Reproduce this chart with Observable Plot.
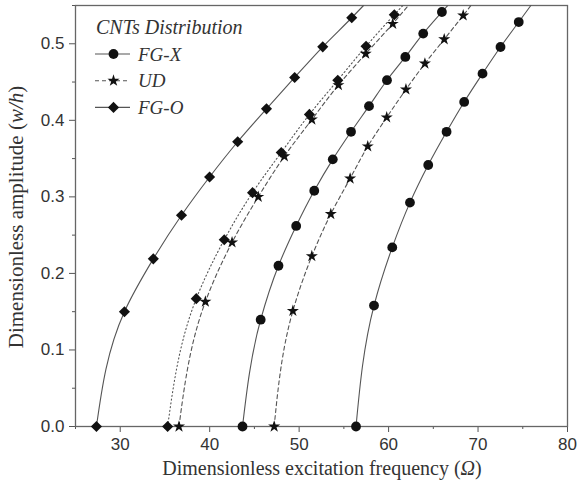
<!DOCTYPE html>
<html>
<head>
<meta charset="utf-8">
<script src="https://cdn.jsdelivr.net/npm/d3@7"></script>
<script src="https://cdn.jsdelivr.net/npm/@observablehq/plot@0.6"></script>
<style>
  html, body { margin: 0; padding: 0; background: #fff; }
  svg { display: block; }
</style>
</head>
<body>
<div id="chart"></div>
<script>
// ---- Data (x = frequency Ω, y = amplitude w/h) ----
// FG-O, solid line, diamonds (lowest frequency)
const foSolidX = [27.34, 30.47, 33.7, 36.85, 39.99, 43.13, 46.35, 49.5, 52.64, 55.88];
const foSolidY = [0, 0.150, 0.219, 0.276, 0.326, 0.372, 0.415, 0.456, 0.496, 0.534];
const foSolidEndX = 57.2;
// diamonds, dotted line
const foDotX = [35.3, 38.5, 41.63, 44.79, 48.0, 51.15, 54.32, 57.48, 60.64];
const foDotY = [0, 0.167, 0.244, 0.3055, 0.358, 0.4077, 0.4524, 0.4967, 0.538];
const foDotEndX = 61.6;
// UD, dashed line, stars (first)
const ud1X = [36.57, 39.52, 42.5, 45.43, 48.35, 51.42, 54.39, 57.44, 60.46];
const ud1Y = [0, 0.163, 0.2405, 0.300, 0.353, 0.401, 0.446, 0.487, 0.526];
const ud1EndX = 62.2;
// FG-X, solid line, circles (first)
const fx1X = [43.67, 45.7, 47.69, 49.67, 51.69, 53.76, 55.8, 57.81, 59.82, 61.87, 63.87, 65.96];
const fx1Y = [0, 0.1395, 0.210, 0.262, 0.308, 0.349, 0.385, 0.4185, 0.4524, 0.4828, 0.5133, 0.5415];
const fx1EndX = 66.6;
// UD, dashed line, stars (second)
const ud2X = [47.21, 49.3, 51.42, 53.54, 55.7, 57.67, 59.79, 61.94, 64.06, 66.22, 68.34];
const ud2Y = [0, 0.151, 0.2225, 0.2775, 0.324, 0.366, 0.4038, 0.4403, 0.4742, 0.5059, 0.537];
const ud2EndX = 69.2;
// FG-X, solid line, circles (second)
const fx2X = [56.36, 58.37, 60.41, 62.39, 64.43, 66.48, 68.45, 70.5, 72.51, 74.55];
const fx2Y = [0, 0.158, 0.234, 0.2925, 0.3416, 0.385, 0.424, 0.461, 0.4958, 0.5284];
const fx2EndX = 75.9;

const yTop = 0.55;
const xTicks = [30, 40, 50, 60, 70, 80];
const xMinor = [25, 35, 45, 55, 65, 75];
const yTicks = [0, 0.1, 0.2, 0.3, 0.4, 0.5];
const yMinor = [0.05, 0.15, 0.25, 0.35, 0.45, 0.55];

const legendTitle = "CNTs Distribution";
const legendNames = ["FG-X", "UD", "FG-O"];
const legendSymbols = ["circle", "star", "diamond2"];
const legendDash = ["none", "4,3", "none"];

// ---- Build tables ----
const curves = [
  {id: "foSolid", xs: foSolidX, ys: foSolidY, end: foSolidEndX, symbol: "diamond2", dash: "none"},
  {id: "foDot",   xs: foDotX,   ys: foDotY,   end: foDotEndX,   symbol: "diamond2", dash: "1.2,2.6"},
  {id: "ud1",     xs: ud1X,     ys: ud1Y,     end: ud1EndX,     symbol: "star",     dash: "4,3"},
  {id: "fx1",     xs: fx1X,     ys: fx1Y,     end: fx1EndX,     symbol: "circle",   dash: "none"},
  {id: "ud2",     xs: ud2X,     ys: ud2Y,     end: ud2EndX,     symbol: "star",     dash: "4,3"},
  {id: "fx2",     xs: fx2X,     ys: fx2Y,     end: fx2EndX,     symbol: "circle",   dash: "none"}
];
const rBySymbol = {circle: 4.9, diamond2: 5.0, star: 3.8};

const lineMarks = curves.map(c => {
  const pts = c.xs.map((x, i) => ({x, y: c.ys[i]}));
  pts.push({x: c.end, y: yTop});
  return Plot.line(pts, {x: "x", y: "y", curve: "monotone-y", stroke: "#555", strokeWidth: 1.1,
                         strokeDasharray: c.dash === "none" ? null : c.dash});
});
const dotMarks = curves.map(c => {
  const pts = c.xs.map((x, i) => ({x, y: c.ys[i]}));
  return Plot.dot(pts, {x: "x", y: "y", symbol: () => c.symbol, fill: "#111", stroke: "none", r: rBySymbol[c.symbol]});
});

const W = 581, H = 486;
const chart = Plot.plot({
  width: W, height: H,
  marginLeft: 75, marginRight: 14, marginTop: 5, marginBottom: 60,
  style: {fontFamily: "'Liberation Sans', Arial, sans-serif", fontSize: "17px", color: "#333", background: "#fff"},
  x: {domain: [25, 80]},
  y: {domain: [0, yTop]},
  symbol: {type: "identity"},
  marks: [
    Plot.axisX({ticks: xTicks, tickSize: 6, tickPadding: 5, label: null, stroke: "#555", fontSize: 17}),
    Plot.axisX({ticks: xMinor, tickSize: 3, tickFormat: () => "", label: null, stroke: "#555"}),
    Plot.axisY({ticks: yTicks, tickSize: 6, tickPadding: 5, tickFormat: d3.format(".1f"), label: null, stroke: "#555", fontSize: 17}),
    Plot.axisY({ticks: yMinor, tickSize: 3, tickFormat: () => "", label: null, stroke: "#555"}),
    Plot.frame({stroke: "#666", strokeWidth: 1.3}),
    ...lineMarks,
    ...dotMarks
  ]
});
document.getElementById("chart").appendChild(chart);

// ---- Axis titles (with italic parts) and legend ----
const svg = d3.select(chart);
const serif = "'Liberation Serif', 'Times New Roman', serif";

const yt = svg.append("text")
  .attr("transform", "translate(23,217) rotate(-90)")
  .attr("text-anchor", "middle")
  .style("font-family", serif).style("font-size", "21px").attr("fill", "#333");
yt.append("tspan").text("Dimensionless amplitude (");
yt.append("tspan").attr("font-style", "italic").text("w/h");
yt.append("tspan").text(")");

const xt = svg.append("text")
  .attr("x", 322).attr("y", 475)
  .attr("text-anchor", "middle")
  .style("font-family", serif).style("font-size", "20px").attr("fill", "#333");
xt.append("tspan").text("Dimensionless excitation frequency (");
xt.append("tspan").attr("font-style", "italic").text("Ω");
xt.append("tspan").text(")");

const lg = svg.append("g").attr("text-anchor", "start")
  .style("font-family", serif).style("font-style", "italic").attr("fill", "#333");
lg.append("text").attr("x", 96).attr("y", 34).attr("text-anchor", "start").style("font-size", "20px").text(legendTitle);
const d3Sym = {circle: d3.symbolCircle, diamond2: d3.symbolDiamond2, star: d3.symbolStar};
legendNames.forEach((name, i) => {
  const cy = 54 + i * 26.7;
  lg.append("line").attr("x1", 95).attr("x2", 130).attr("y1", cy).attr("y2", cy)
    .attr("stroke", "#555").attr("stroke-width", 1.1)
    .attr("stroke-dasharray", legendDash[i] === "none" ? null : legendDash[i]);
  const r = rBySymbol[legendSymbols[i]];
  lg.append("path").attr("transform", `translate(113.5,${cy})`)
    .attr("d", d3.symbol(d3Sym[legendSymbols[i]], Math.PI * r * r)())
    .attr("fill", "#111");
  lg.append("text").attr("x", 138).attr("y", cy + 6.5).attr("text-anchor", "start").style("font-size", "19px").text(name);
});
</script>
</body>
</html>
